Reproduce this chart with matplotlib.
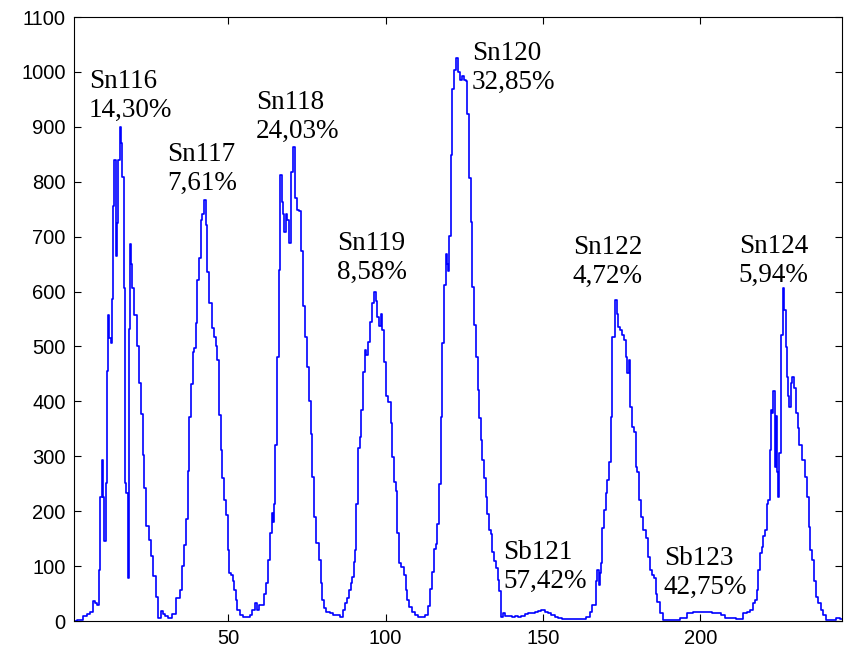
import matplotlib
matplotlib.use('Agg')
import matplotlib.pyplot as plt

# spectrum readings (channel, counts)
channel = [1.2, 3, 4.5, 5.5, 6.7, 7.3, 7.9, 8.6, 9.0, 9.6, 10.2, 10.5, 10.8, 11.2, 11.5,
           12.0, 12.4, 12.8, 13.1, 13.6, 14.1, 14.5, 14.9, 15.3, 15.7, 16.1, 16.6, 17.0,
           17.4, 17.8, 18.2, 18.6, 18.9, 19.3, 19.7, 20.5, 21.2, 21.9, 22.6, 23.1, 23.6,
           24.4, 25.0, 25.8, 26.6, 27.3, 28.2, 28.9, 29.6, 30.4, 31.5, 32.6, 34.2, 34.9,
           35.8, 36.3, 36.8, 37.3, 37.9, 38.4, 38.9,
           39.4, 39.9, 40.5, 41.0, 41.5, 42.0, 42.6, 43.1, 43.6, 44.2, 45.2, 45.7, 46.3,
           46.8, 47.3, 47.9, 48.4, 48.9, 49.7, 50.0, 50.5, 51.2, 51.8, 52.1, 52.6, 53.2,
           54.2, 55.3, 56.3, 57.2, 57.9, 59.0, 59.5, 60.0, 61.1, 61.6, 62.2, 62.9, 63.6,
           64.1, 64.4, 64.8, 65.1, 65.7, 66.4, 66.7, 67.2, 67.7, 68.0, 68.5, 69.0, 69.6,
           70.1, 70.9, 71.2, 71.5, 72.0, 72.7, 73.5, 74.0, 74.7, 75.4, 75.9, 76.5, 77.0,
           77.5, 78.4, 79.1, 79.6, 80.2, 80.7, 81.7, 82.8, 83.9, 85.0, 86.0, 86.6, 87.4,
           88.0, 88.6, 89.2, 89.7, 90.0, 90.4, 91.0, 91.5, 92.0, 92.6, 93.2, 93.6, 94.1,
           94.8, 95.3, 95.8, 96.5, 97.1, 97.6, 98.1, 98.7, 99.2, 99.8, 100.5, 101.3,
           101.9, 102.4, 102.9, 103.5, 104.0, 104.5, 105.4, 106.1, 106.6, 107.1, 107.7,
           108.8, 109.8, 110.9, 111.9, 113.0, 113.8, 114.6, 115.1, 115.7, 116.2, 116.7,
           117.3, 117.8, 118.3, 118.8, 119.4, 119.6, 119.9, 120.4, 120.9, 121.5, 122.2,
           122.8, 123.3, 123.9, 124.5, 125.2, 125.7, 126.3, 126.8, 127.3, 127.8, 128.4,
           128.9, 129.5, 130.0, 130.5, 131.0, 131.5, 132.1, 132.6, 133.1, 133.6, 134.2,
           134.7, 135.3, 135.8, 136.3, 136.9, 137.4, 138.5, 139.5, 140.5, 141.5, 142.6,
           143.7, 144.8, 145.9, 147.0, 148.0, 149.0, 150.0, 151.0, 152.0, 153.2, 154.3,
           155.4, 156.5, 157.5, 159.6, 162.8, 164.4, 165.4, 166.0, 166.5, 167.0, 167.5,
           167.9, 168.3, 168.6, 169.1, 169.7, 170.2, 170.7, 171.2, 171.8, 172.3, 173.2,
           173.7, 174.2, 174.7, 175.4, 176.0, 176.5, 177.1, 177.4, 177.9, 178.7, 179.2,
           179.7, 180.3, 180.8, 181.3, 182.4, 182.9, 183.7, 184.5, 185.0, 185.5, 186.1,
           186.6, 187.7, 188.7, 190.3, 192.4, 194.6, 196.7, 198.8, 201.4, 203.0, 204.6,
           205.7, 207.3, 208.3, 209.4, 210.4, 212.0, 213.1, 214.2, 215.2, 216.3, 217.0,
           217.7, 218.2, 218.7, 219.1, 219.8, 220.2, 220.7, 221.3, 221.8, 222.1, 222.5,
           223.0, 223.4, 223.9, 224.2, 224.5, 224.9, 225.3, 225.6, 225.9, 226.3, 226.9,
           227.2, 227.7, 228.1, 228.5, 228.8, 229.5, 230.0, 230.6, 231.1, 231.8, 232.7,
           233.5, 234.1, 234.6, 235.3, 235.9, 236.4, 236.9, 237.8, 238.5, 239.4, 240.6,
           242.2, 243.8, 245.0]
counts = [0, 2, 9, 12, 17, 36, 33, 30, 93, 226, 293, 226, 146, 252, 455,
          558, 516, 507, 586, 755, 840, 664, 725, 840, 900, 870, 808, 607,
          252, 233, 78, 531, 686, 651, 607, 557, 500, 434, 377, 302, 242,
          173, 148, 119, 82, 44, 6, 19, 13, 9, 6, 13, 41, 57,
          100, 138, 185, 274, 371, 431, 490,
          497, 542, 621, 661, 730, 742, 767, 721, 636, 579, 533, 518, 500,
          475, 375, 311, 260, 220, 193, 129, 87, 84, 72, 56, 38, 20,
          11, 8, 7, 11, 20, 32, 20, 29, 29, 50, 69, 111, 160,
          196, 181, 214, 321, 481, 639, 812, 763, 742, 709, 742, 730, 688,
          818, 864, 834, 770, 749, 746, 673, 573, 518, 463, 401, 340, 263,
          190, 142, 111, 69, 38, 23, 17, 14, 11, 11, 8, 20, 32,
          41, 56, 69, 81, 108, 129, 214, 315, 336, 384, 454, 494, 485,
          509, 545, 579, 600, 582, 554, 537, 560, 530, 472, 409, 399,
          360, 299, 254, 236, 160, 105, 99, 84, 56, 38, 26,
          17, 11, 8, 8, 11, 27, 59, 90, 131, 140, 176,
          250, 372, 507, 612, 668, 651, 637, 702, 848, 969, 1003,
          1025, 999, 985, 993, 986, 983, 924, 806, 727, 609, 540,
          481, 420, 370, 330, 294, 260, 225, 195, 166, 159, 125,
          110, 97, 75, 55, 7, 14, 10, 10, 8, 9, 8,
          10, 12, 14, 15, 16, 19, 20, 17, 14, 11, 8,
          5, 4, 3, 3, 3, 8, 17, 29, 29, 72, 93,
          66, 87, 105, 169, 202, 233, 257, 290, 372, 518, 585,
          560, 536, 530, 520, 512, 481, 451, 475, 390, 354, 345,
          281, 272, 220, 190, 166, 151, 117, 93, 84, 78, 50,
          35, 14, 2, 2, 2, 6, 14, 17, 17, 17, 15,
          14, 11, 5, 5, 5, 3, 3, 14, 17, 20, 32,
          38, 56, 93, 123, 135, 154, 166, 214, 220, 311, 385,
          379, 418, 281, 373, 272, 226, 306, 391, 521, 606, 566,
          499, 445, 409, 390, 433, 445, 424, 379, 351, 321, 293,
          263, 226, 172, 129, 111, 72, 44, 32, 20, 11, 2,
          2, 5, 3]

# peak labels: isotope, abundance, label anchor (channel, counts)
isotopes = ['Sn116', 'Sn117', 'Sn118', 'Sn119', 'Sn120', 'Sb121', 'Sn122', 'Sb123', 'Sn124']
abundance = ['14,30%', '7,61%', '24,03%', '8,58%', '32,85%', '57,42%', '4,72%', '42,75%', '5,94%']
label_x = [5.7, 30.6, 58.8, 84.5, 127.4, 137.3, 159.5, 188.4, 212.2]
label_y = [956, 823, 918, 661, 1007, 98, 654, 87, 656]

fig = plt.figure(figsize=(8.48, 6.55), dpi=100)
ax = fig.add_axes([0.0873, 0.0519, 0.9057, 0.9221])

ax.plot(channel, counts, color='#0000ff', linewidth=1.2, drawstyle='steps-mid')

for name, pct, lx, ly in zip(isotopes, abundance, label_x, label_y):
    ax.text(lx, ly, name + '\n' + pct, ha='left', va='center',
            fontsize=19.5, family='Liberation Serif', linespacing=1.2)

ax.set_xlim(1, 245)
ax.set_ylim(0, 1100)
ax.set_xticks([50, 100, 150, 200])
ax.set_yticks(range(0, 1101, 100))
ax.tick_params(direction='in', length=5, width=0.8, top=True, right=True,
               labelsize=14.5, pad=6)
for lab in ax.get_xticklabels() + ax.get_yticklabels():
    lab.set_family('Liberation Sans')
for sp in ax.spines.values():
    sp.set_linewidth(0.8)

plt.savefig('out.png', dpi=100)
